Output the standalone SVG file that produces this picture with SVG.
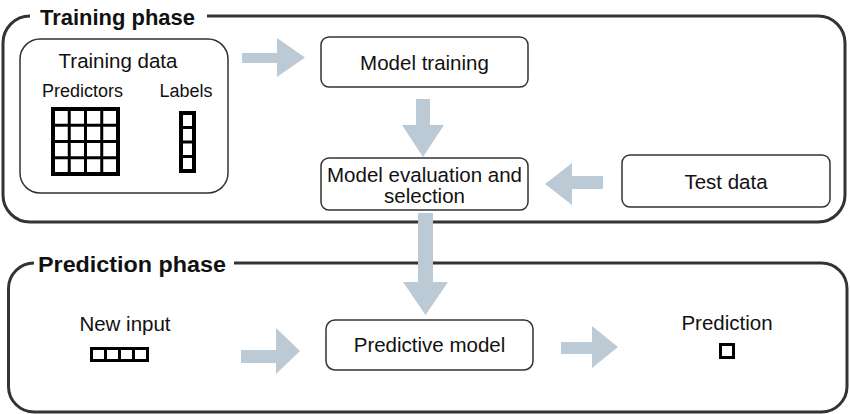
<svg xmlns="http://www.w3.org/2000/svg" width="850" height="414" viewBox="0 0 850 414">
<style>
  .phase { fill: none; stroke: #333; stroke-width: 3; }
  .box { fill: #fff; stroke: #333; stroke-width: 1.5; }
  .t { font-family: "Liberation Sans", Arial, sans-serif; font-size: 20.5px; fill: #111; text-anchor: middle; }
  .s { font-size: 18px; }
  .title { font-family: "Liberation Sans", Arial, sans-serif; font-weight: bold; fill: #111; }
  .cell { fill: none; stroke: #000; stroke-width: 3; }
  .cellout { fill: none; stroke: #000; stroke-width: 4; }
  .arrow { fill: #bccad6; stroke: none; }
</style>
<rect width="850" height="414" fill="#fff"/>

<g id="training-phase">
  <path class="phase" d="M 30 16 A 27 27 0 0 0 3 43 V 195 A 27 27 0 0 0 30 222 H 818 A 27 27 0 0 0 845 195 V 43 A 27 27 0 0 0 818 16 H 207"/>
  <text class="title" x="40" y="25" font-size="22" textLength="155" lengthAdjust="spacingAndGlyphs">Training phase</text>
</g>

<g id="prediction-phase">
  <path class="phase" d="M 34 263 A 25.5 25.5 0 0 0 8.5 288.5 V 386.5 A 25.5 25.5 0 0 0 34 412 H 821.5 A 25.5 25.5 0 0 0 847 386.5 V 288.5 A 25.5 25.5 0 0 0 821.5 263 H 234"/>
  <text class="title" x="38" y="272" font-size="22" textLength="188" lengthAdjust="spacingAndGlyphs">Prediction phase</text>
</g>

<g id="training-data">
  <rect class="box" x="20" y="39" width="208" height="154" rx="20"/>
  <text class="t" x="118" y="68">Training data</text>
  <text class="t s" x="82.5" y="97">Predictors</text>
  <text class="t s" x="186" y="97">Labels</text>
  <g id="predictor-grid">
    <line class="cell" x1="69.25" y1="109" x2="69.25" y2="174"/>
    <line class="cell" x1="85.5" y1="109" x2="85.5" y2="174"/>
    <line class="cell" x1="101.75" y1="109" x2="101.75" y2="174"/>
    <line class="cell" x1="53" y1="125.25" x2="118" y2="125.25"/>
    <line class="cell" x1="53" y1="141.5" x2="118" y2="141.5"/>
    <line class="cell" x1="53" y1="157.75" x2="118" y2="157.75"/>
    <rect class="cellout" x="53" y="109" width="65" height="65"/>
  </g>
  <g id="label-column">
    <line class="cell" x1="181" y1="127.5" x2="194" y2="127.5"/>
    <line class="cell" x1="181" y1="142" x2="194" y2="142"/>
    <line class="cell" x1="181" y1="156.5" x2="194" y2="156.5"/>
    <rect class="cellout" x="181" y="113" width="13" height="58"/>
  </g>
</g>

<g id="model-training">
  <rect class="box" x="321" y="37" width="207" height="50" rx="8"/>
  <text class="t" x="424.5" y="70">Model training</text>
</g>

<g id="model-evaluation">
  <rect class="box" x="321" y="158" width="207" height="52" rx="8"/>
  <text class="t" x="424.5" y="182">Model evaluation and</text>
  <text class="t" x="424.5" y="203">selection</text>
</g>

<g id="test-data">
  <rect class="box" x="622" y="155" width="208" height="52" rx="8"/>
  <text class="t" x="726" y="189">Test data</text>
</g>

<g id="new-input">
  <text class="t" x="125" y="331">New input</text>
  <line class="cell" x1="105.5" y1="348.5" x2="105.5" y2="360.5"/>
  <line class="cell" x1="119.5" y1="348.5" x2="119.5" y2="360.5"/>
  <line class="cell" x1="133.5" y1="348.5" x2="133.5" y2="360.5"/>
  <rect class="cell" x="91.5" y="348.5" width="56" height="12"/>
</g>

<g id="predictive-model">
  <rect class="box" x="326" y="320" width="207" height="50" rx="9"/>
  <text class="t" x="429.5" y="352">Predictive model</text>
</g>

<g id="prediction">
  <text class="t" x="727" y="330">Prediction</text>
  <rect class="cell" x="720.5" y="344.5" width="13" height="13"/>
</g>

<g id="connectors">
  <polygon class="arrow" points="242,53 277,53 277,38 305,57.5 277,77 277,63 242,63"/>
  <polygon class="arrow" points="416,99 430,99 430,125 444,125 423,157 402,125 416,125"/>
  <polygon class="arrow" points="603,176 572,176 572,163 545,184 572,205 572,189 603,189"/>
  <polygon class="arrow" points="418,213 433,213 433,282 448,282 425.5,315 403,282 418,282"/>
  <polygon class="arrow" points="241,350 276,350 276,328 300,351 276,374 276,363 241,363"/>
  <polygon class="arrow" points="561,342 592,342 592,326 618,347 592,368 592,354 561,354"/>
</g>
</svg>
